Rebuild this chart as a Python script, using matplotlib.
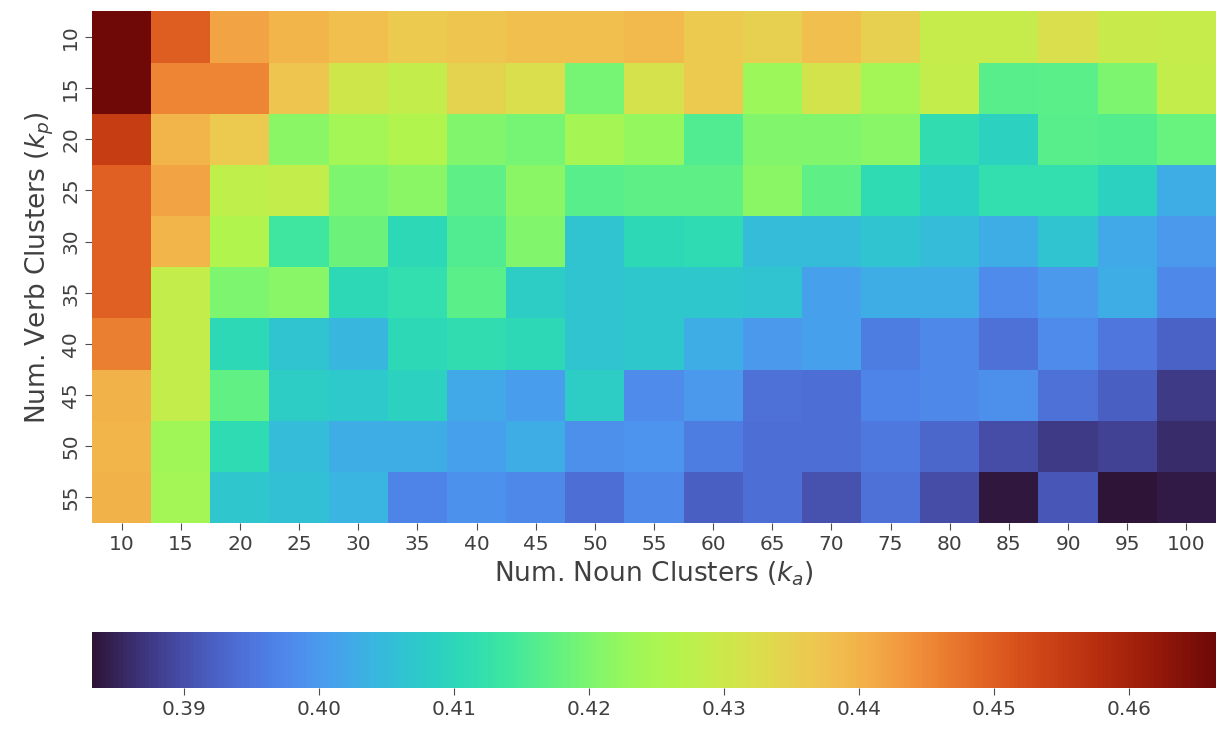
import matplotlib
matplotlib.use("Agg")
import matplotlib.pyplot as plt
from matplotlib.colors import ListedColormap
import seaborn as sns
import numpy as np
import pandas as pd

noun_k = [10, 15, 20, 25, 30, 35, 40, 45, 50, 55, 60, 65, 70, 75, 80, 85, 90, 95, 100]
verb_k = [10, 15, 20, 25, 30, 35, 40, 45, 50, 55]

# one list per verb-cluster row, values
row_10 = [0.4664, 0.450, 0.4418, 0.4395, 0.438, 0.436, 0.437, 0.438, 0.438, 0.439, 0.436, 0.435, 0.438, 0.435, 0.429, 0.429, 0.432, 0.4295, 0.429]
row_15 = [0.4662, 0.4455, 0.4455, 0.437, 0.4305, 0.4285, 0.4345, 0.432, 0.4195, 0.4315, 0.436, 0.423, 0.431, 0.424, 0.4285, 0.4165, 0.4168, 0.420, 0.4285]
row_20 = [0.455, 0.4395, 0.436, 0.4215, 0.424, 0.426, 0.4205, 0.4195, 0.4243, 0.4225, 0.416, 0.4205, 0.4205, 0.421, 0.4115, 0.409, 0.4165, 0.4163, 0.418]
row_25 = [0.4495, 0.4418, 0.428, 0.4285, 0.420, 0.4215, 0.417, 0.4215, 0.4165, 0.4172, 0.4172, 0.4215, 0.4172, 0.411, 0.4085, 0.412, 0.412, 0.409, 0.4027]
row_30 = [0.4495, 0.4395, 0.426, 0.414, 0.4185, 0.4105, 0.416, 0.4205, 0.4063, 0.4105, 0.411, 0.405, 0.405, 0.4065, 0.405, 0.4027, 0.4065, 0.4023, 0.400]
row_35 = [0.4495, 0.4285, 0.420, 0.421, 0.4105, 0.412, 0.4167, 0.408, 0.4063, 0.407, 0.407, 0.4063, 0.401, 0.4027, 0.403, 0.398, 0.400, 0.403, 0.3975]
row_40 = [0.446, 0.4285, 0.4105, 0.4063, 0.4043, 0.4105, 0.4115, 0.4105, 0.4063, 0.407, 0.4027, 0.400, 0.401, 0.396, 0.3975, 0.3945, 0.398, 0.395, 0.3925]
row_45 = [0.440, 0.4285, 0.4175, 0.408, 0.4075, 0.409, 0.4023, 0.4005, 0.408, 0.398, 0.400, 0.3945, 0.394, 0.397, 0.3975, 0.3985, 0.3945, 0.392, 0.3875]
row_50 = [0.4395, 0.4235, 0.411, 0.405, 0.4027, 0.4027, 0.401, 0.403, 0.3985, 0.3993, 0.396, 0.394, 0.394, 0.3955, 0.393, 0.390, 0.3875, 0.3885, 0.386]
row_55 = [0.440, 0.424, 0.4068, 0.4058, 0.4038, 0.397, 0.399, 0.3975, 0.394, 0.3975, 0.392, 0.394, 0.3905, 0.3945, 0.390, 0.3838, 0.391, 0.3832, 0.384]

scores = pd.DataFrame([row_10, row_15, row_20, row_25, row_30,
                       row_35, row_40, row_45, row_50, row_55],
                      index=verb_k, columns=noun_k)

# turbo, a little less saturated like the original render
base = plt.get_cmap("turbo")(np.linspace(0, 1, 256))[:, :3]
lum = (base @ np.array([0.3, 0.59, 0.11]))[:, None]
soft_turbo = ListedColormap(np.clip(lum + 0.85 * (base - lum), 0, 1))

sns.set_style("ticks")
plt.rcParams['font.family'] = ['DejaVu Sans']

fig = plt.figure(figsize=(12.19, 7.31), dpi=100)
ax = fig.add_axes([0.0755, 0.2845, 0.922, 0.700])
cax = fig.add_axes([0.0755, 0.0588, 0.922, 0.0760])

sns.heatmap(scores, cmap=soft_turbo, ax=ax, cbar_ax=cax,
            cbar_kws={"orientation": "horizontal"})

ax.set_xlabel("Num. Noun Clusters ($k_a$)", fontsize=19, color=".25")
ax.set_ylabel("Num. Verb Clusters ($k_p$)", fontsize=19, color=".25")
ax.tick_params(labelsize=14.5, labelcolor=".25", color=".3", length=5)
cax.tick_params(labelsize=14.5, labelcolor=".25", color=".3", length=5)
cax.set_xticks([0.39, 0.40, 0.41, 0.42, 0.43, 0.44, 0.45, 0.46])
cax.set_xticklabels(["0.39", "0.40", "0.41", "0.42", "0.43", "0.44", "0.45", "0.46"])

fig.savefig("out.png", dpi=100)
